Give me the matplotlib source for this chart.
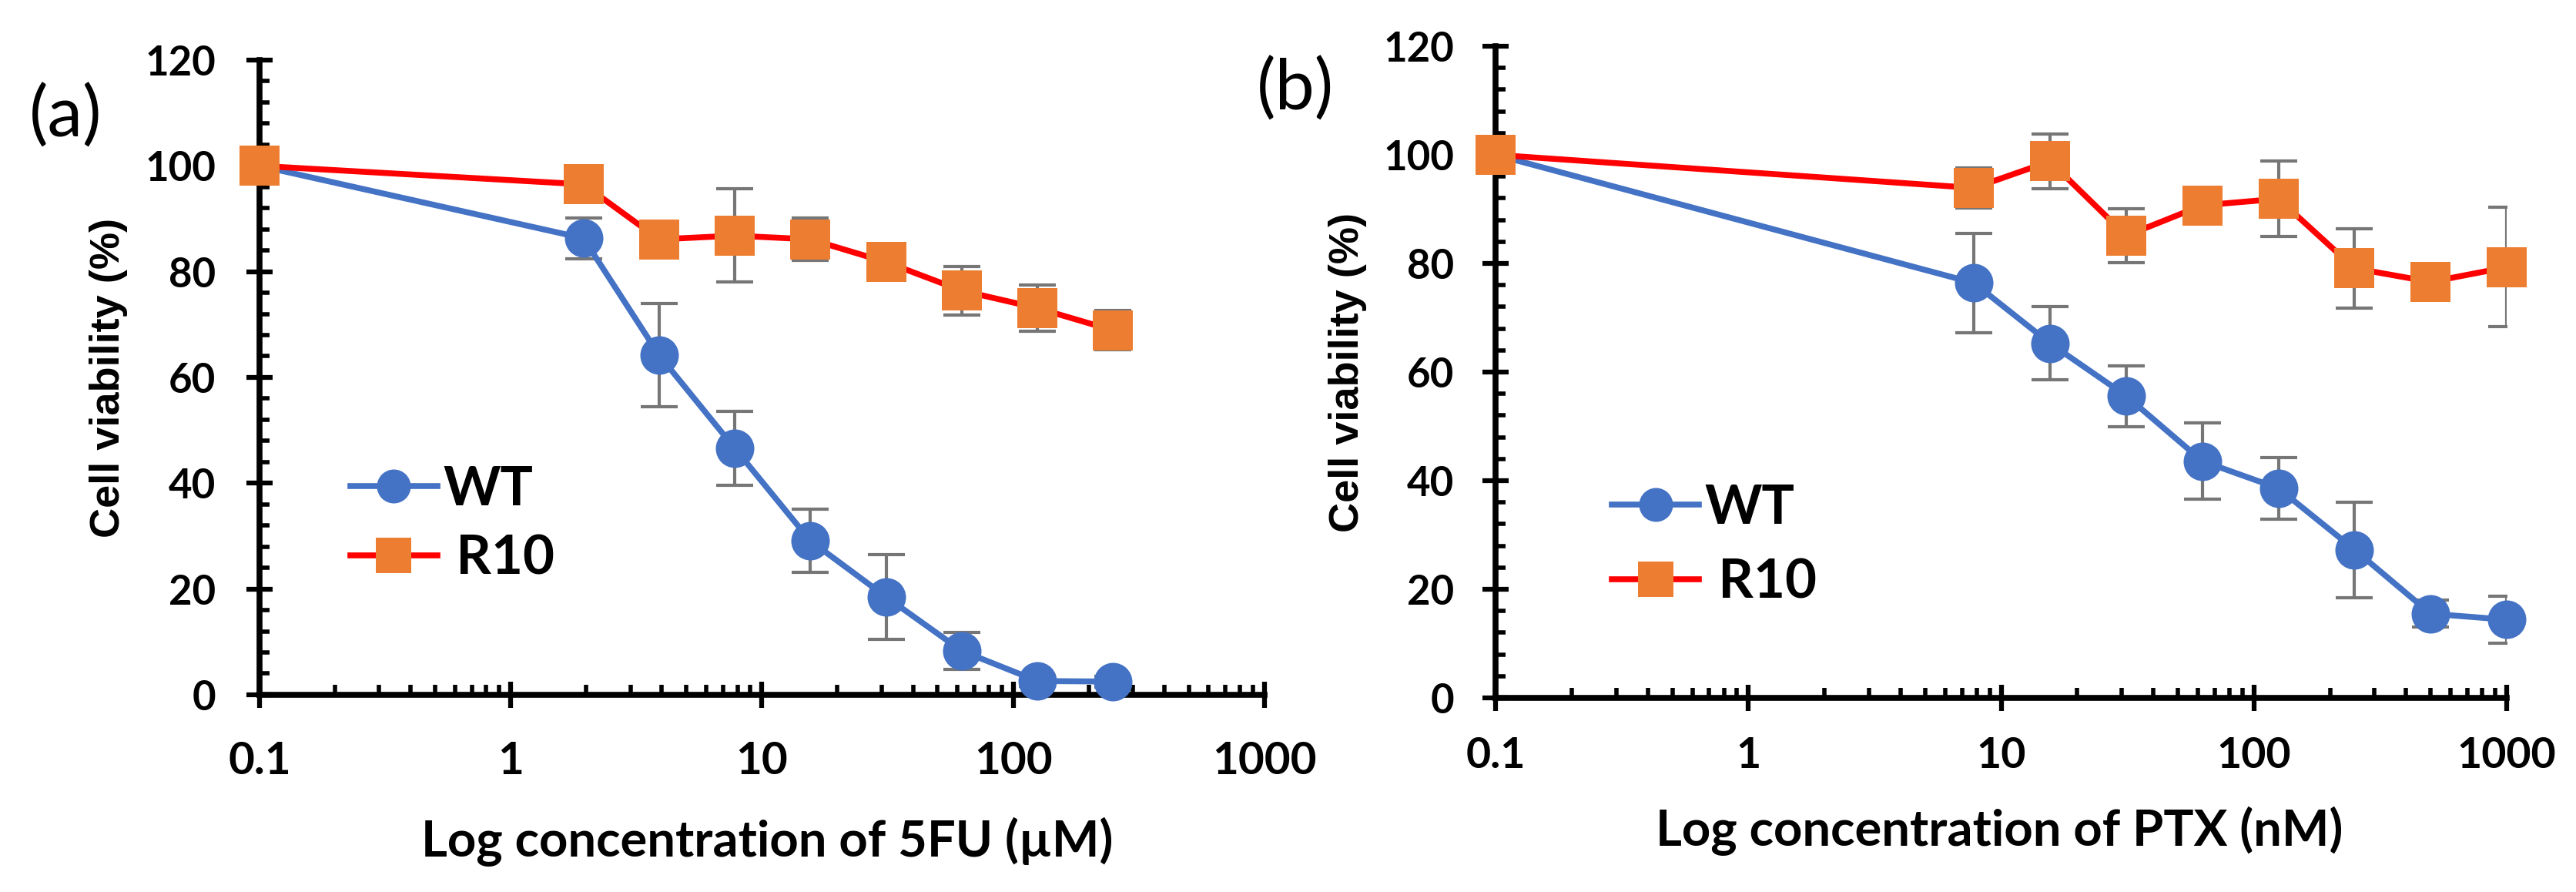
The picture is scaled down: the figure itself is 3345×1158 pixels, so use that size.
import numpy as np
import matplotlib
matplotlib.use("Agg")
import matplotlib.pyplot as plt
from matplotlib.ticker import FixedLocator, LogLocator, NullFormatter, FuncFormatter

# ---------------------------------------------------------------
# data
# ---------------------------------------------------------------
CONC_5FU = [0.1, 1.95, 3.9, 7.8, 15.6, 31.25, 62.5, 125, 250]          # uM (0 plotted at 0.1)
WT_5FU = [100, 86.3, 64.2, 46.6, 29.1, 18.5, 8.3, 2.6, 2.5]
WT_5FU_ERR = [0, 3.9, 9.8, 7.0, 6.0, 8.0, 3.5, 1.0, 1.0]
R10_5FU = [100, 96.5, 86.1, 86.8, 86.1, 81.8, 76.4, 73.1, 68.9]
R10_5FU_ERR = [0, 1.5, 1.5, 8.8, 4.0, 1.5, 4.6, 4.4, 3.7]

CONC_PTX = [0.1, 7.8, 15.6, 31.25, 62.5, 125, 250, 500, 1000]         # nM (0 plotted at 0.1)
WT_PTX = [100, 76.4, 65.3, 55.6, 43.6, 38.6, 27.3, 15.5, 14.4]
WT_PTX_ERR = [0, 9.2, 6.7, 5.6, 7.0, 5.7, 8.8, 2.5, 4.3]
R10_PTX = [100, 93.9, 98.8, 85.1, 90.7, 91.9, 79.1, 76.6, 79.3]
R10_PTX_ERR = [0, 3.7, 5.0, 5.0, 1.5, 6.9, 7.3, 1.5, 11.0]

SERIES = ["WT", " R10"]
Y_TICKS = [0, 20, 40, 60, 80, 100, 120]
X_TICKS = [0.1, 1, 10, 100, 1000]
X_TICK_LABELS = ["0.1", "1", "10", "100", "1000"]

BLUE = "#4472C4"
ORANGE = "#ED7D31"
RED = "#FF0000"
GREY = "#767676"

BOLD = dict(family="Lato", weight="bold")


def draw_panel(ax, x, wt, wt_err, r10, r10_err, xlabel, letter, cfg):
    # error bars sit under the lines/markers
    ax.errorbar(x, wt, yerr=wt_err, fmt="none", ecolor=GREY, elinewidth=3,
                capsize=17, capthick=3, zorder=2)
    ax.errorbar(x, r10, yerr=r10_err, fmt="none", ecolor=GREY, elinewidth=3,
                capsize=17, capthick=3, zorder=2)
    ax.plot(x, wt, color=BLUE, lw=5.5, marker="o", ms=36, mfc=BLUE, mec=BLUE,
            mew=0, label=SERIES[0], zorder=3, clip_on=False)
    ax.plot(x, r10, color=RED, lw=5.5, marker="s", ms=37, mfc=ORANGE, mec=ORANGE,
            mew=0, label=SERIES[1], zorder=4, clip_on=False)

    ax.set_xscale("log")
    ax.set_xlim(0.1, 1000)
    ax.set_ylim(0, 120)

    for side in ("top", "right"):
        ax.spines[side].set_visible(False)
    for side in ("left", "bottom"):
        ax.spines[side].set_linewidth(5.5)

    ax.yaxis.set_major_locator(FixedLocator(Y_TICKS))
    ax.yaxis.set_minor_locator(FixedLocator(np.arange(0, 121, 4)))
    ax.xaxis.set_major_locator(FixedLocator(X_TICKS))
    ax.xaxis.set_major_formatter(FuncFormatter(lambda v, p: X_TICK_LABELS[X_TICKS.index(v)]
                                               if v in X_TICKS else ""))
    ax.xaxis.set_minor_locator(LogLocator(base=10, subs=np.arange(2, 10), numticks=20))
    ax.xaxis.set_minor_formatter(NullFormatter())

    ax.tick_params(axis="both", which="major", direction="inout", length=24, width=4.5)
    ax.tick_params(axis="both", which="minor", direction="in", length=9.5, width=4)
    ax.tick_params(axis="y", which="major", pad=cfg["ypad"], labelsize=38)
    ax.tick_params(axis="x", which="major", pad=cfg["xpad"], labelsize=cfg["xsize"])
    for lab in ax.get_xticklabels() + ax.get_yticklabels():
        lab.set_fontfamily("Lato")
        lab.set_fontweight("bold")

    ax.set_xlabel(xlabel, fontsize=47, va="center", **BOLD)
    ax.xaxis.set_label_coords(cfg["xlab"][0], cfg["xlab"][1])
    ax.set_ylabel("Cell viability (%)", fontsize=39, family="Liberation Sans",
                  weight="bold", va="center")
    ax.yaxis.set_label_coords(cfg["ylab"], 0.5)

    ax.text(cfg["letter"][0], cfg["letter"][1], letter, transform=ax.transAxes,
            fontsize=66, family="Lato", ha="center", va="center")

    ax.legend(loc="center left", bbox_to_anchor=cfg["legend"], frameon=False,
              prop=dict(family="Lato", weight="bold", size=51),
              handlelength=1.6, handletextpad=0.1, labelspacing=cfg["lspace"],
              borderpad=0, borderaxespad=0, markerscale=0.88)


fig = plt.figure(figsize=(33.45, 11.58), dpi=100)
ax_a = fig.add_axes([0.1007, 0.2211, 0.3901, 0.7116])
ax_b = fig.add_axes([0.5806, 0.2176, 0.3925, 0.7306])

draw_panel(ax_a, CONC_5FU, WT_5FU, WT_5FU_ERR, R10_5FU, R10_5FU_ERR,
           "Log concentration of 5FU (\u00b5M)", "(a)",
           dict(ypad=29, xpad=31, xsize=42, xlab=(0.505, -0.232), ylab=-0.150,
                letter=(-0.193, 0.911), legend=(0.0904, 0.269), lspace=0.35))
draw_panel(ax_b, CONC_PTX, WT_PTX, WT_PTX_ERR, R10_PTX, R10_PTX_ERR,
           "Log concentration of PTX (nM)", "(b)",
           dict(ypad=27, xpad=24, xsize=40, xlab=(0.498, -0.2045), ylab=-0.146,
                letter=(-0.198, 0.933), legend=(0.115, 0.234), lspace=0.45))

fig.savefig("out.png", dpi=100)
